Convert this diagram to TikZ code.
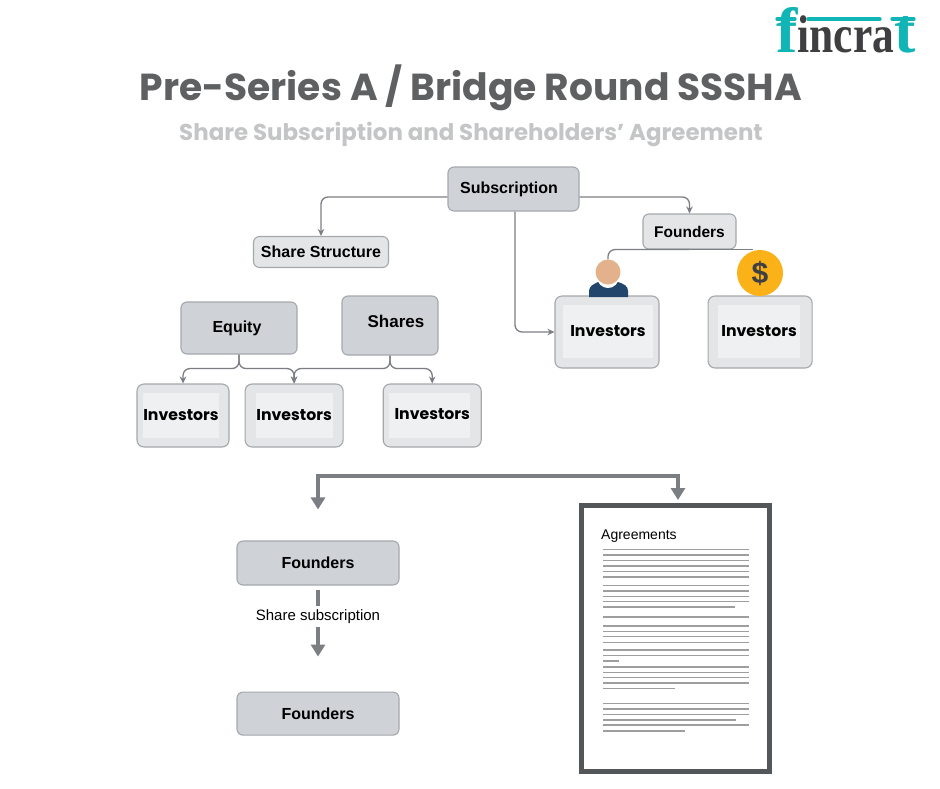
\documentclass[tikz,border=0pt]{standalone}
\usepackage{fontspec}
\setmainfont{Liberation Sans}
\newfontfamily\headfont{Poppins}
\newfontfamily\logofont{Liberation Serif}
\usetikzlibrary{arrows.meta,positioning}
\definecolor{tealmark}{HTML}{12B5B5}
\definecolor{inkdark}{HTML}{3F3F41}
\definecolor{titlegrey}{HTML}{5F6062}
\definecolor{subgrey}{HTML}{C4C5C6}
\definecolor{boxgrey}{HTML}{CFD2D6}
\definecolor{lightgrey}{HTML}{E4E5E7}
\definecolor{panelgrey}{HTML}{EFF0F1}
\definecolor{edgegrey}{HTML}{A5A8AB}
\definecolor{linegrey}{HTML}{7B7E83}
\definecolor{docgrey}{HTML}{54575A}
\definecolor{skin}{HTML}{E3B28C}
\definecolor{coin}{HTML}{FBB118}
\definecolor{jacket}{HTML}{22466B}
\tikzset{
  greybox/.style={draw=edgegrey,fill=boxgrey,rounded corners=6pt,line width=1.1pt,inner sep=0pt,font=\bfseries\fontsize{16}{18}\selectfont},
  lightbox/.style={greybox,fill=lightgrey},
  investorbox/.style={draw=edgegrey,fill=lightgrey,rounded corners=7pt,line width=1.1pt,inner sep=0pt},
  investorpanel/.style={fill=panelgrey,inner sep=0pt,font=\headfont\bfseries\fontsize{15.7}{18}\selectfont},
  conn/.style={draw=linegrey,line width=1.3pt,rounded corners=7pt,-{Stealth[length=7pt,width=6.5pt]}},
  bigconn/.style={draw=linegrey,line width=3.6pt},
  docline/.style={draw=black!38,line width=1.8pt}
}
\begin{document}
\begin{tikzpicture}[x=1pt,y=-1pt]
\useasboundingbox[fill=white] (0,0) rectangle (940,788);
% logo and headings
\node[inner sep=0pt,anchor=base west,font=\logofont\bfseries] (logo) at (776,52) {\textcolor{tealmark}{\fontsize{64}{64}\selectfont f}\textcolor{inkdark}{\fontsize{53}{53}\selectfont\scalebox{.82}[1]{incra}}\textcolor{tealmark}{\fontsize{64}{64}\selectfont t}};
\draw[tealmark,line width=3.2pt,line cap=round] (777,19) -- (795,19);
\draw[tealmark,line width=3.2pt,line cap=round] (808,19) -- (880,19);
\draw[tealmark,line width=3.2pt,line cap=round] (892,19) -- (914,19);
\node[text=titlegrey,font=\headfont\bfseries\fontsize{37.6}{40}\selectfont] (title) at (471,88) {Pre-Series A / Bridge Round SSSHA};
\node[text=subgrey,font=\headfont\bfseries\fontsize{22.9}{26}\selectfont] (subtitle) at (471,134) {Share Subscription and Shareholders’ Agreement};
% upper part
\node[greybox,minimum width=131pt,minimum height=44pt] (subscription) at (513.5,189) {Subscription\rule{9pt}{0pt}};
\node[lightbox,minimum width=135pt,minimum height=31pt] (share structure) at (321,252) {Share Structure};
\node[lightbox,minimum width=93pt,minimum height=35pt,font=\bfseries\fontsize{15.5}{18}\selectfont] (founders) at (689.5,231.5) {Founders};
\node[investorbox,minimum width=104pt,minimum height=72pt] (inv one) at (607,332) {};
\node[investorbox,minimum width=104pt,minimum height=72pt,right=48pt of inv one] (inv two) {};
\node[investorpanel,minimum width=90pt,minimum height=53pt] (inv one text) at ([xshift=1pt,yshift=.5pt]inv one) {\raisebox{1pt}{Investors}};
\node[investorpanel,minimum width=82pt,minimum height=53pt] (inv two text) at ([xshift=-1pt,yshift=.5pt]inv two) {\raisebox{1pt}{Investors}};
\node[greybox,minimum width=116pt,minimum height=52pt] (equity) at (239,328) {Equity\rule{4pt}{0pt}};
\node[greybox,minimum width=96pt,minimum height=59pt,font=\bfseries\fontsize{17}{18}\selectfont] (shares) at (390,325.5) {\hspace{12pt}\raisebox{9pt}{Shares}};
\node[investorbox,minimum width=92pt,minimum height=63pt] (inv three) at (183,415.5) {};
\node[investorbox,minimum width=98pt,minimum height=63pt,right=15pt of inv three] (inv four) {};
\node[investorbox,minimum width=98pt,minimum height=63pt,right=39pt of inv four] (inv five) {};
\node[investorpanel,minimum width=73pt,minimum height=45pt] (inv three text) at ([xshift=-2pt]inv three) {Investors};
\node[investorpanel,minimum width=77pt,minimum height=45pt] (inv four text) at (inv four) {Investors};
\node[investorpanel,minimum width=81pt,minimum height=45pt] (inv five text) at ([xshift=-2.5pt]inv five) {\hspace{5pt}\raisebox{3pt}{Investors}};
% person and coin
\fill[jacket] (589,297) -- (589,291) .. controls (589,286) and (594,284) .. (598,282) -- (618,282) .. controls (624,284) and (628,286) .. (628,291) -- (628,297) -- cycle;
\node[circle,fill=white,minimum size=22pt,inner sep=0pt] (collar) at (608,277) {};
\node[circle,fill=skin,minimum size=25pt,inner sep=0pt] (head) at (608,272) {};
\node[circle,fill=coin,minimum size=46pt,inner sep=0pt,text=inkdark,font=\bfseries\fontsize{30}{30}\selectfont] (dollar) at (760,273) {\$};
% connectors
\draw[conn] ([yshift=-8pt]subscription.west) -| (share structure.north);
\draw[conn] ([yshift=-8pt]subscription.east) -| (founders.north);
\draw[conn] ([xshift=1.5pt]subscription.south) |- (inv one.west);
\draw[conn,-] (founders.south) -| (head.north);
\draw[conn,-] (founders.south) -- ([xshift=-7pt]founders.south -| dollar.north);
\draw[conn] (equity.south) -- ++(0,14) -| (inv three.north);
\draw[conn] (equity.south) -- ++(0,14) -| (inv four.north);
\draw[conn] (shares.south) -- ++(0,13) -| (inv four.north);
\draw[conn] (shares.south) -- ++(0,13) -| (inv five.north);
% lower part
\node[greybox,minimum width=162pt,minimum height=44pt] (founders top) at (318,563) {Founders};
\node[greybox,minimum width=162pt,minimum height=43pt,below=106pt of founders top] (founders bottom) {Founders};
\node[inner sep=0pt,font=\fontsize{15}{18}\selectfont] (subscription label) at (318,616.5) {Share subscription};
\draw[bigconn,shorten <=4pt,shorten >=3pt] (founders top.south) -- (subscription label.north);
\draw[bigconn,-{Triangle[length=12pt,width=14pt]},shorten <=3pt,shorten >=35pt] (subscription label.south) -- (founders bottom.north);
\node[draw=docgrey,fill=white,line width=5pt,minimum width=188pt,minimum height=266pt,inner sep=0pt] (agreement page) at (675.5,638.5) {};
\node[anchor=base west,inner sep=0pt,font=\fontsize{14}{16}\selectfont] (agreements) at (601,539) {Agreements};
\coordinate (bracket) at (500,476);
\draw[bigconn,{Triangle[length=12pt,width=14pt]}-{Triangle[length=12pt,width=14pt]},shorten <=31pt,shorten >=3pt] (founders top.north) |- (bracket) -| ([xshift=2.5pt]agreement page.north);
\foreach \ly/\lx in {549.5/749,555/749,560.5/749,566/749,571.5/749,577/749,585.5/749,591/749,596.5/749,601.5/749,607/735,617/749,626/749,631.5/749,636.5/749,642.5/749,650/749,655.5/749,661/619,667/749,672.5/749,677.5/749,683/749,688.5/675,703.5/749,709/749,714.5/749,720/736,725/749,731/685}
  \draw[docline] (603,\ly) -- (\lx,\ly);
\end{tikzpicture}
\end{document}
